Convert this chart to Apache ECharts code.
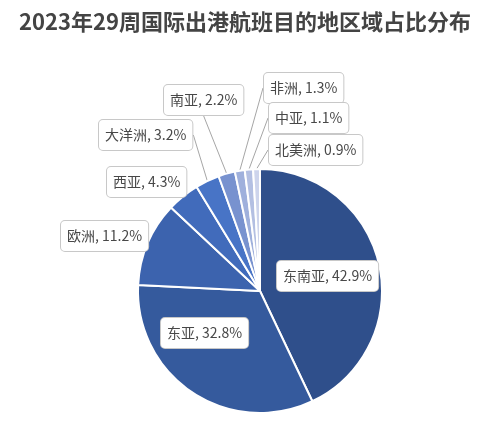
<!DOCTYPE html>
<html>
<head>
<meta charset="utf-8">
<script src="https://cdn.jsdelivr.net/npm/echarts@6/dist/echarts.min.js"></script>
<style>
  html, body { margin: 0; padding: 0; background: #fff; }
  #main { width: 490px; height: 425px; }
</style>
</head>
<body>
<div id="main"></div>
<script>
// 地区与占比(%)
var regions = ['东南亚', '东亚', '欧洲', '西亚', '大洋洲', '南亚', '非洲', '中亚', '北美洲'];
var shares = [42.9, 32.8, 11.2, 4.3, 3.2, 2.2, 1.3, 1.1, 0.9];

var colors = ['#2f4f8b', '#355a9d', '#3c63ae', '#416bbb', '#4874c6', '#7892cf', '#9fb0dc', '#b3bfe2', '#cdd4ec'];
// 标签框左上角位置
var labelPos = [[277, 261], [161, 318], [61, 221], [107, 167], [99, 120], [164, 85], [264, 73], [269, 103], [269, 135]];
var noLine = ['东南亚', '东亚', '欧洲', '西亚'];

var chart = echarts.init(document.getElementById('main'));

var pieData = regions.map(function (name, i) {
  return {
    name: name,
    value: shares[i],
    itemStyle: { color: colors[i] },
    labelLine: { show: noLine.indexOf(name) < 0 }
  };
});

var option = {
  backgroundColor: '#fff',
  animation: false,
  textStyle: { fontFamily: 'Noto Sans CJK SC' },
  title: {
    text: '2023年29周国际出港航班目的地区域占比分布',
    left: 'center',
    top: 6,
    textStyle: {
      fontFamily: 'Noto Sans CJK SC',
      fontSize: 22,
      fontWeight: 'bold',
      color: '#444'
    }
  },
  series: [
    {
      type: 'pie',
      center: [260, 291],
      radius: 122,
      startAngle: 90,
      clockwise: true,
      avoidLabelOverlap: false,
      itemStyle: { borderColor: '#fff', borderWidth: 2 },
      label: {
        show: true,
        position: 'outside',
        formatter: '{b}, {c}%',
        fontFamily: 'Noto Sans CJK SC',
        fontSize: 14,
        color: '#484848',
        backgroundColor: '#fff',
        borderColor: '#c8c8c8',
        borderWidth: 1,
        borderRadius: 4,
        padding: [8, 6]
      },
      labelLine: {
        length: 10,
        length2: 0,
        lineStyle: { color: '#a6a6a6', width: 1 }
      },
      labelLayout: function (params) {
        var p = labelPos[params.dataIndex];
        return { x: p[0], y: p[1], align: 'left', verticalAlign: 'top' };
      },
      emphasis: { disabled: true },
      data: pieData
    }
  ]
};

chart.setOption(option);
</script>
</body>
</html>
